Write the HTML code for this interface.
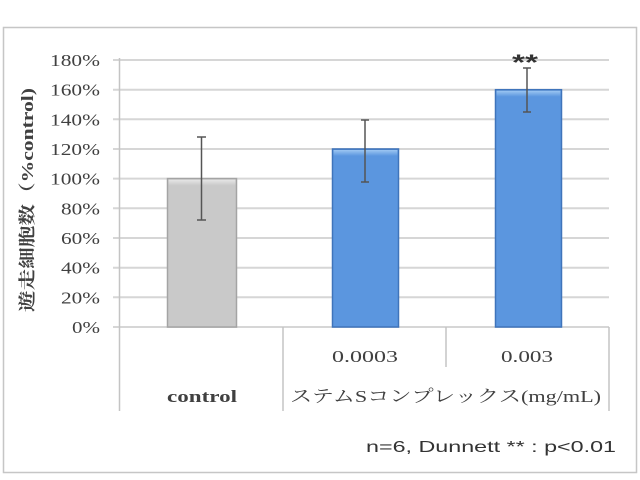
<!DOCTYPE html>
<html><head><meta charset="utf-8"><style>
html,body{margin:0;padding:0;background:#fff;}
svg{display:block;}
</style></head><body>
<svg width="640" height="480" viewBox="0 0 640 480" xmlns="http://www.w3.org/2000/svg">
<defs>
<linearGradient id="tb" x1="0" y1="0" x2="0" y2="1">
<stop offset="0" stop-color="#9cc6f2"/><stop offset="1" stop-color="#5b96df"/>
</linearGradient>
<linearGradient id="tg" x1="0" y1="0" x2="0" y2="1">
<stop offset="0" stop-color="#e6e6e6"/><stop offset="1" stop-color="#c9c9c9"/>
</linearGradient>
</defs>
<rect x="0" y="0" width="640" height="480" fill="#fff"/>
<rect x="3.5" y="27.5" width="633" height="445" fill="#fff" stroke="#c6c6c6" stroke-width="1.5"/>

<!-- gridlines -->
<g stroke="#d6d6d6" stroke-width="2">
<line x1="113" y1="60" x2="609" y2="60"/>
<line x1="113" y1="89.7" x2="609" y2="89.7"/>
<line x1="113" y1="119.3" x2="609" y2="119.3"/>
<line x1="113" y1="149" x2="609" y2="149"/>
<line x1="113" y1="178.6" x2="609" y2="178.6"/>
<line x1="113" y1="208.3" x2="609" y2="208.3"/>
<line x1="113" y1="238" x2="609" y2="238"/>
<line x1="113" y1="267.7" x2="609" y2="267.7"/>
<line x1="113" y1="297.3" x2="609" y2="297.3"/>
<line x1="113" y1="327" x2="609" y2="327"/>
</g>
<!-- axis & category separators -->
<g stroke="#c4c4c4" stroke-width="1.5">
<line x1="119.5" y1="58" x2="119.5" y2="411"/>
<line x1="283" y1="327" x2="283" y2="411"/>
<line x1="446" y1="327" x2="446" y2="367"/>
<line x1="609" y1="327" x2="609" y2="411"/>
</g>

<!-- bars -->
<rect x="167.5" y="178.6" width="69" height="148.4" fill="#c9c9c9" stroke="#a4a4a4" stroke-width="1.5"/>
<rect x="168.5" y="179.6" width="67" height="6" fill="url(#tg)"/>
<rect x="332.5" y="149" width="66" height="178" fill="#5b96df" stroke="#3f74bb" stroke-width="1.5"/>
<rect x="333.5" y="150" width="64" height="6" fill="url(#tb)"/>
<rect x="495.5" y="89.7" width="66" height="237.3" fill="#5b96df" stroke="#3f74bb" stroke-width="1.5"/>
<rect x="496.5" y="90.7" width="64" height="6" fill="url(#tb)"/>

<!-- error bars -->
<g stroke="#555" stroke-width="1.5">
<line x1="201.5" y1="137" x2="201.5" y2="220"/>
<line x1="197" y1="137" x2="206" y2="137"/>
<line x1="197" y1="220" x2="206" y2="220"/>
<line x1="365" y1="120" x2="365" y2="182"/>
<line x1="361" y1="120" x2="369" y2="120"/>
<line x1="361" y1="182" x2="369" y2="182"/>
<line x1="527" y1="68" x2="527" y2="112"/>
<line x1="523" y1="68" x2="531" y2="68"/>
<line x1="523" y1="112" x2="531" y2="112"/>
</g>

<!-- ** -->
<text x="525" y="70" text-anchor="middle" font-family="Liberation Sans, sans-serif" font-size="22" font-weight="bold" fill="#333" textLength="26" lengthAdjust="spacingAndGlyphs">**</text>

<!-- y tick labels -->
<g font-family="Liberation Serif, serif" font-size="17" fill="#404040" text-anchor="end" lengthAdjust="spacingAndGlyphs">
<text x="100" y="66" textLength="50" lengthAdjust="spacingAndGlyphs">180%</text>
<text x="100" y="95.7" textLength="50" lengthAdjust="spacingAndGlyphs">160%</text>
<text x="100" y="125.3" textLength="50" lengthAdjust="spacingAndGlyphs">140%</text>
<text x="100" y="155" textLength="50" lengthAdjust="spacingAndGlyphs">120%</text>
<text x="100" y="184.6" textLength="50" lengthAdjust="spacingAndGlyphs">100%</text>
<text x="100" y="214.3" textLength="39" lengthAdjust="spacingAndGlyphs">80%</text>
<text x="100" y="244" textLength="39" lengthAdjust="spacingAndGlyphs">60%</text>
<text x="100" y="273.7" textLength="39" lengthAdjust="spacingAndGlyphs">40%</text>
<text x="100" y="303.3" textLength="39" lengthAdjust="spacingAndGlyphs">20%</text>
<text x="100" y="333" textLength="28" lengthAdjust="spacingAndGlyphs">0%</text>
</g>

<!-- y axis title -->
<text transform="translate(33,200) rotate(-90)" text-anchor="middle" font-family="Liberation Serif, 'Noto Serif CJK SC', serif" font-size="17" font-weight="bold" fill="#404040" textLength="224" lengthAdjust="spacingAndGlyphs">遊走細胞数（%control)</text>

<!-- category labels -->
<g font-family="Liberation Serif, 'Noto Serif CJK SC', serif" font-size="17" fill="#404040">
<text x="365" y="362" text-anchor="middle" textLength="66" lengthAdjust="spacingAndGlyphs">0.0003</text>
<text x="527" y="362" text-anchor="middle" textLength="52" lengthAdjust="spacingAndGlyphs">0.003</text>
<text x="202" y="402" text-anchor="middle" font-weight="bold" textLength="70" lengthAdjust="spacingAndGlyphs">control</text>
<text x="290" y="402" textLength="311" lengthAdjust="spacingAndGlyphs">ステムSコンプレックス(mg/mL)</text>
</g>

<!-- footnote -->
<text x="616" y="452" text-anchor="end" font-family="Liberation Sans, sans-serif" font-size="16" fill="#333" textLength="250" lengthAdjust="spacingAndGlyphs">n=6, Dunnett ** : p&lt;0.01</text>
</svg>
</body></html>
